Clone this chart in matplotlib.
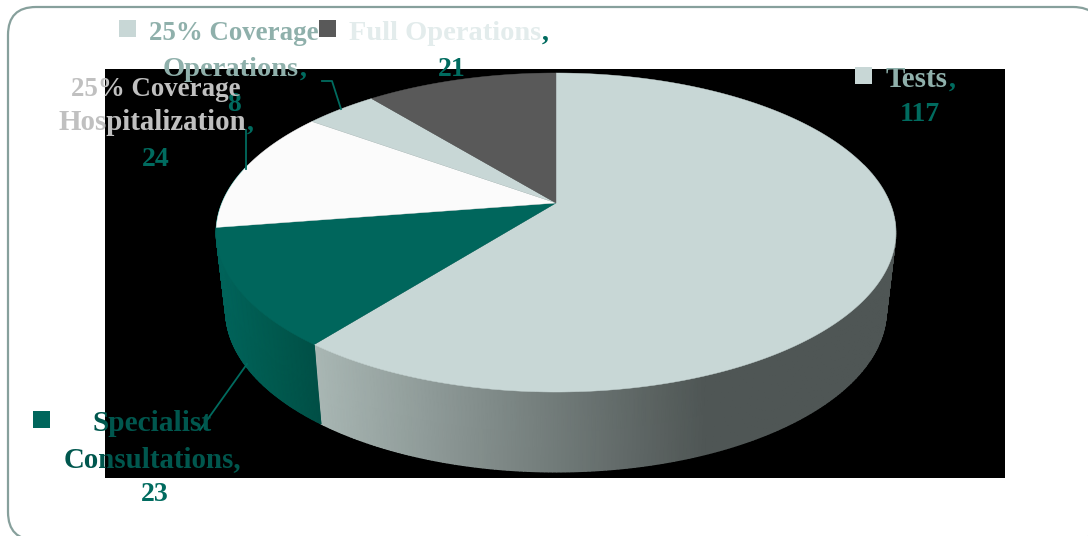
#!/usr/bin/env python3

import numpy as np
import matplotlib
matplotlib.use("Agg")
import matplotlib.pyplot as plt
from matplotlib.colors import LinearSegmentedColormap
from matplotlib.patches import FancyBboxPatch, Polygon, Rectangle

categories = ["Tests", "Specialist Consultations", "25% Coverage Hospitalization",
              "25% Coverage Operations", "Full Operations"]
values = [117, 23, 24, 8, 21]
top_colors = ["#c8d7d6", "#00665c", "#fbfbfb", "#c8d7d6", "#595959"]

TEAL = "#006b5f"
FONT = "Liberation Serif"


# perspective view of the pie disc, angle measured clockwise from 12 o'clock
def project(theta, lower=False):
    u, v = np.sin(theta), np.cos(theta)
    w = 1 + 0.185 * v
    x = 334 * u / w
    y = (203 - 116.5 * v) / w
    if lower:
        x = x * 0.972
        y = 472 + 1.0125 * (y - 392)
    return 556 + x, y


def draw_wall(t0, t1, x_light, x_dark, stops):
    # one curved wall as a two-row mesh, shaded along x
    thetas = np.linspace(t0, t1, 240)
    xt, yt = project(thetas)
    xb, yb = project(thetas, True)
    X = np.vstack([xt, xb])
    Y = np.vstack([yt, yb])
    C = np.clip((X - x_light) / (x_dark - x_light), 0, 1)
    cmap = LinearSegmentedColormap.from_list("wall", stops)
    ax.pcolormesh(X, Y, C, cmap=cmap, vmin=0, vmax=1, shading="gouraud",
                  zorder=3, antialiased=True)


def label(x, y, s, color, size=20):
    ax.text(x, y + 1, s, color=color, fontsize=size, fontweight="bold",
            family=FONT, ha="center", va="baseline", zorder=8)


fig = plt.figure(figsize=(10.88, 5.36), dpi=100)
ax = fig.add_axes([0, 0, 1, 1])
ax.set_xlim(0, 1088)
ax.set_ylim(536, 0)
ax.axis("off")

ax.add_patch(FancyBboxPatch((8, 7), 1093, 533,
                            boxstyle="round,pad=0,rounding_size=28",
                            fc="white", ec="#87a09c", lw=1.6, zorder=1))
ax.add_patch(Rectangle((105, 69), 900, 409, fc="black", ec="none", zorder=2))

fractions = np.array(values) / sum(values)
edges = np.concatenate([[0], np.cumsum(fractions)]) * 2 * np.pi

# only the two front slices show a side wall
draw_wall(np.radians(75), edges[1], 315, 705, ["#a9b7b4", "#4f5655"])
draw_wall(edges[1], np.radians(285), 225, 320, ["#00635a", "#005a4f", "#004f46"])

# top face
for i in range(len(values)):
    thetas = np.linspace(edges[i], edges[i + 1], 300)
    xs, ys = project(thetas)
    pts = [(556, 203)] + list(zip(xs, ys))
    ax.add_patch(Polygon(pts, fc=top_colors[i], ec=top_colors[i], lw=0.3, zorder=4))

# leader lines
ax.plot([322, 332, 341], [81, 81, 109], color=TEAL, lw=1.3, zorder=5)
ax.plot([245.5, 245.5], [130, 169], color=TEAL, lw=1.3, zorder=5)
ax.plot([200, 247], [430, 364], color=TEAL, lw=1.3, zorder=5)

# legend keys
for x, y, c in [(119, 20, "#c8d7d6"), (319, 20, "#595959"),
                (855, 67, "#c8d7d6"), (33, 411, "#00665c")]:
    ax.add_patch(Rectangle((x, y), 17, 17, fc=c, ec="none", zorder=7))

label(234, 39, "25% Coverage", "#8fb0ab", 19.4)
label(231, 75, "Operations", "#8fb0ab", 20.5)
label(303, 75, ",", TEAL)
label(234, 110, "8", TEAL)

label(156, 95, "25% Coverage", "#c0c0c0", 19.4)
label(152, 129, "Hospitalization", "#c0c0c0", 20.8)
label(250, 129, ",", TEAL)
label(156, 165, "24", TEAL)

label(445, 39, "Full Operations", "#e3ecec", 20.5)
label(545, 39, ",", TEAL)
label(452, 75, "21", TEAL)

label(917, 86, "Tests", "#8fb0ab", 21)
label(952, 86, ",", TEAL)
label(920, 120, "117", TEAL)

label(152, 430, "Specialist", "#00574e", 21.2)
label(152, 466, "Consultations,", "#00574e", 20.8)
label(155, 500, "23", TEAL)

fig.savefig("out.png", dpi=100)
